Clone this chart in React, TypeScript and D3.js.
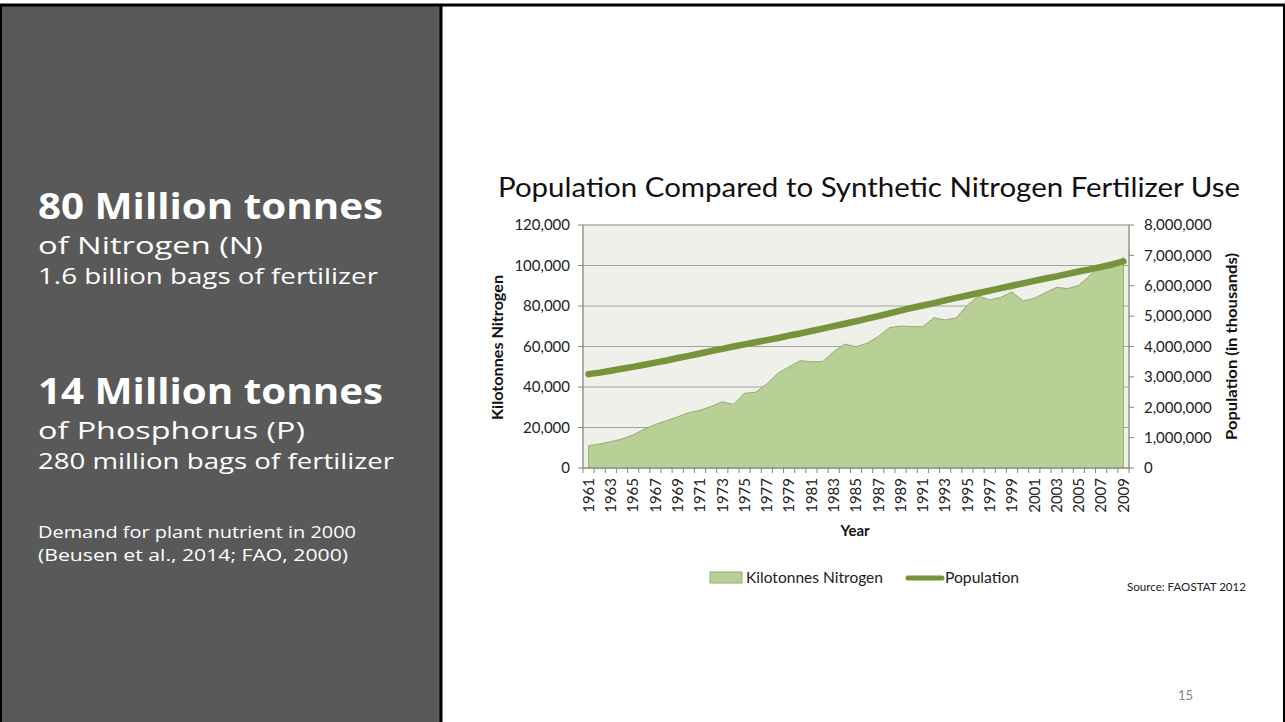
import React from "react";
import * as d3 from "d3";

const years: number[] = [
  1961, 1962, 1963, 1964, 1965, 1966, 1967, 1968, 1969, 1970,
  1971, 1972, 1973, 1974, 1975, 1976, 1977, 1978, 1979, 1980,
  1981, 1982, 1983, 1984, 1985, 1986, 1987, 1988, 1989, 1990,
  1991, 1992, 1993, 1994, 1995, 1996, 1997, 1998, 1999, 2000,
  2001, 2002, 2003, 2004, 2005, 2006, 2007, 2008, 2009,
];

const nitrogen: number[] = [
  11000, 11900, 13000, 14300, 16300, 19200, 21500, 23300, 25300, 27300,
  28500, 30400, 32700, 31400, 36900, 37400, 41500, 46800, 50000, 53000,
  52500, 52500, 57400, 61200, 59900, 61600, 64900, 69300, 70100, 69800,
  69800, 74200, 73100, 74200, 80500, 84900, 83000, 84300, 86900, 82500,
  83800, 86600, 89200, 88600, 90200, 95100, 100200, 99400, 104000,
];

const population: number[] = [
  3090000, 3140000, 3200000, 3270000, 3330000, 3400000, 3470000, 3540000, 3620000, 3690000,
  3770000, 3850000, 3920000, 4000000, 4070000, 4140000, 4210000, 4280000, 4360000, 4430000,
  4510000, 4590000, 4670000, 4750000, 4830000, 4920000, 5000000, 5090000, 5180000, 5270000,
  5350000, 5430000, 5520000, 5600000, 5680000, 5760000, 5840000, 5920000, 6000000, 6080000,
  6160000, 6240000, 6310000, 6390000, 6470000, 6540000, 6620000, 6700000, 6800000,
];

const leftTicks: number[] = [0, 20000, 40000, 60000, 80000, 100000, 120000];
const rightTicks: number[] = [0, 1000000, 2000000, 3000000, 4000000, 5000000, 6000000, 7000000, 8000000];

const chartTitle = "Population Compared to Synthetic Nitrogen Fertilizer Use";
const leftAxisTitle = "Kilotonnes Nitrogen";
const rightAxisTitle = "Population (in thousands)";
const xAxisTitle = "Year";
const legendItems: string[] = ["Kilotonnes Nitrogen", "Population"];
const sourceText = "Source: FAOSTAT 2012";
const pageNumber = "15";

const panelLines: { text: string; size: number; weight: number; y: number; len: number }[] = [
  { text: "80 Million tonnes", size: 36, weight: 700, y: 219, len: 345 },
  { text: "of Nitrogen (N)", size: 23, weight: 400, y: 254, len: 225 },
  { text: "1.6 billion bags of fertilizer", size: 21, weight: 400, y: 284, len: 340 },
  { text: "14 Million tonnes", size: 36, weight: 700, y: 404, len: 345 },
  { text: "of Phosphorus (P)", size: 23, weight: 400, y: 439, len: 267 },
  { text: "280 million bags of fertilizer", size: 21, weight: 400, y: 469, len: 356 },
  { text: "Demand for plant nutrient in 2000", size: 16.5, weight: 400, y: 538, len: 318 },
  { text: "(Beusen et al., 2014; FAO, 2000)", size: 16.5, weight: 400, y: 561, len: 310 },
];

const W = 1285;
const H = 722;
const plot = { left: 583, right: 1129, top: 225, bottom: 468 };

const chartFont = "Lato, 'Open Sans', sans-serif";

export default function App() {
  const x = d3.scaleBand<number>().domain(years).range([plot.left, plot.right]).paddingInner(0).paddingOuter(0);
  const bw = x.bandwidth();
  const cx = (yr: number) => (x(yr) as number) + bw / 2;
  const yL = d3.scaleLinear().domain([0, 120000]).range([plot.bottom, plot.top]);
  const yR = d3.scaleLinear().domain([0, 8000000]).range([plot.bottom, plot.top]);
  const fmt = d3.format(",");

  const areaGen = d3
    .area<number>()
    .x((_, i) => cx(years[i]))
    .y0(yL(0))
    .y1((d) => yL(d));
  const lineGen = d3
    .line<number>()
    .x((_, i) => cx(years[i]))
    .y((d) => yR(d));

  const boundaries = years.map((yr) => x(yr) as number).concat([plot.right]);
  const plotMidX = (plot.left + plot.right) / 2;
  const plotMidY = (plot.top + plot.bottom) / 2;

  return (
    <svg width={W} height={H} style={{ position: "absolute", left: 0, top: 0, display: "block" }}>
      <rect x={0} y={0} width={W} height={H} fill="#ffffff" />
      {/* left panel */}
      <rect x={0} y={5} width={441} height={H - 5} fill="#595959" />
      <line x1={0} x2={W} y1={5} y2={5} stroke="#000" strokeWidth={3} />
      <line x1={1} x2={1} y1={5} y2={H} stroke="#000" strokeWidth={2} />
      <line x1={441} x2={441} y1={5} y2={H} stroke="#000" strokeWidth={3} />
      <line x1={1284} x2={1284} y1={5} y2={H} stroke="#000" strokeWidth={2} />
      {panelLines.map((l, i) => (
        <text
          key={i}
          x={38}
          y={l.y}
          fill="#ffffff"
          fontFamily="'Open Sans', sans-serif"
          fontSize={l.size}
          fontWeight={l.weight}
          textLength={l.len}
          lengthAdjust="spacingAndGlyphs"
        >
          {l.text}
        </text>
      ))}

      {/* chart title */}
      <text x={498} y={197} fontFamily={chartFont} fontSize={26} fill="#111" textLength={742} lengthAdjust="spacingAndGlyphs">
        {chartTitle}
      </text>

      {/* plot background */}
      <rect x={plot.left} y={plot.top} width={plot.right - plot.left} height={plot.bottom - plot.top} fill="#eef0e9" />
      {leftTicks.map((t) => (
        <line key={"g" + t} x1={plot.left} x2={plot.right} y1={yL(t)} y2={yL(t)} stroke="#a3a3a3" strokeWidth={1} />
      ))}

      {/* area */}
      <path d={areaGen(nitrogen) as string} fill="#b8cf96" stroke="#94ab74" strokeWidth={1} />
      {/* line */}
      <path d={lineGen(population) as string} fill="none" stroke="#77933c" strokeWidth={6.5} strokeLinecap="round" strokeLinejoin="round" />

      {/* plot border */}
      <rect x={plot.left} y={plot.top} width={plot.right - plot.left} height={plot.bottom - plot.top} fill="none" stroke="#b3b3b3" strokeWidth={1} />

      {/* left axis */}
      <line x1={plot.left} x2={plot.left} y1={plot.top} y2={plot.bottom} stroke="#868686" />
      {leftTicks.map((t) => (
        <g key={"l" + t}>
          <line x1={plot.left - 5} x2={plot.left} y1={yL(t)} y2={yL(t)} stroke="#868686" />
          <text x={plot.left - 13} y={yL(t)} dy="0.35em" textAnchor="end" fontFamily={chartFont} fontSize={15} fill="#222">
            {fmt(t)}
          </text>
        </g>
      ))}
      <text
        transform={`translate(503,${plotMidY + 1}) rotate(-90)`}
        textAnchor="middle"
        fontFamily={chartFont}
        fontWeight={700}
        fontSize={15}
        fill="#111"
        textLength={145}
        lengthAdjust="spacingAndGlyphs"
      >
        {leftAxisTitle}
      </text>

      {/* right axis */}
      <line x1={plot.right} x2={plot.right} y1={plot.top} y2={plot.bottom} stroke="#868686" />
      {rightTicks.map((t) => (
        <g key={"r" + t}>
          <line x1={plot.right} x2={plot.right + 5} y1={yR(t)} y2={yR(t)} stroke="#868686" />
          <text x={plot.right + 15} y={yR(t)} dy="0.35em" textAnchor="start" fontFamily={chartFont} fontSize={15} fill="#222">
            {fmt(t)}
          </text>
        </g>
      ))}
      <text
        transform={`translate(1237,${plotMidY}) rotate(-90)`}
        textAnchor="middle"
        fontFamily={chartFont}
        fontWeight={700}
        fontSize={15.5}
        fill="#111"
        textLength={187}
        lengthAdjust="spacingAndGlyphs"
      >
        {rightAxisTitle}
      </text>

      {/* bottom axis */}
      <line x1={plot.left} x2={plot.right} y1={plot.bottom} y2={plot.bottom} stroke="#868686" />
      {boundaries.map((b, i) => (
        <line key={"b" + i} x1={b} x2={b} y1={plot.bottom} y2={plot.bottom + 5} stroke="#868686" />
      ))}
      {years
        .filter((_, i) => i % 2 === 0)
        .map((yr) => (
          <text
            key={"x" + yr}
            transform={`translate(${cx(yr)},${plot.bottom + 10}) rotate(-90)`}
            textAnchor="end"
            dy="0.35em"
            fontFamily={chartFont}
            fontSize={15}
            fill="#222"
          >
            {yr}
          </text>
        ))}
      <text x={plotMidX - 1} y={536} textAnchor="middle" fontFamily={chartFont} fontWeight={700} fontSize={15} fill="#111">
        {xAxisTitle}
      </text>

      {/* legend */}
      <rect x={710} y={572} width={32} height={11} fill="#b8cf96" stroke="#94ab74" />
      <text x={746} y={578} dy="0.35em" fontFamily={chartFont} fontSize={15} fill="#222" textLength={137} lengthAdjust="spacingAndGlyphs">
        {legendItems[0]}
      </text>
      <line x1={908} x2={942} y1={578} y2={578} stroke="#77933c" strokeWidth={5} strokeLinecap="round" />
      <text x={945} y={578} dy="0.35em" fontFamily={chartFont} fontSize={15} fill="#222" textLength={74} lengthAdjust="spacingAndGlyphs">
        {legendItems[1]}
      </text>

      {/* source + page number */}
      <text x={1127} y={591} fontFamily={chartFont} fontSize={11.5} fill="#222" textLength={119} lengthAdjust="spacingAndGlyphs">
        {sourceText}
      </text>
      <text x={1178} y={700} fontFamily={chartFont} fontSize={13} fill="#8a8a8a">
        {pageNumber}
      </text>
    </svg>
  );
}
